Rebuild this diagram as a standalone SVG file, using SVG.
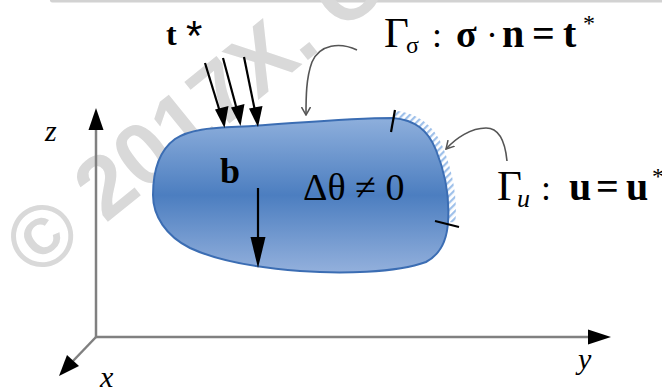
<svg xmlns="http://www.w3.org/2000/svg" width="662" height="387" viewBox="0 0 662 387">
  <style>
    .axis { stroke: #808080; stroke-width: 2.5; fill: none; }
    .lead { stroke: #555; stroke-width: 1.6; fill: none; }
    .force { stroke: #000; stroke-width: 2.2; fill: none; }
    .tick { stroke: #000; stroke-width: 2.2; }
    .serif { font-family: "Liberation Serif", "Times New Roman", serif; fill: #000; }
    .bold { font-weight: bold; }
    .ital { font-style: italic; }
  </style>
  <defs>
    <linearGradient id="bodyFill" x1="0" y1="0" x2="0" y2="1">
      <stop offset="0" stop-color="#8eafdc"/>
      <stop offset="0.5" stop-color="#4c7ec0"/>
      <stop offset="1" stop-color="#93b0dc"/>
    </linearGradient>
    <pattern id="hatch" width="5" height="5" patternUnits="userSpaceOnUse" patternTransform="rotate(45)">
      <rect width="5" height="5" fill="#ffffff"/>
      <rect width="2.2" height="5" fill="#9ec0ea"/>
    </pattern>
    <marker id="openHead" markerWidth="9" markerHeight="10" refX="8" refY="5" orient="auto" markerUnits="userSpaceOnUse">
      <path d="M0,0.5 L8,5 L0,9.5" fill="none" stroke="#555" stroke-width="1.5"/>
    </marker>
  </defs>

  <rect width="662" height="387" fill="#ffffff"/>

  <!-- top edge rule -->
  <rect x="50" y="-2" width="620" height="4.5" rx="2.2" fill="#d2d2d2"/>

  <!-- watermark -->
  <text transform="translate(36,280) rotate(-39)" font-family="Liberation Sans, Arial, sans-serif" font-weight="bold" font-size="88" fill="#d9d9d9">© 2017X. C</text>

  <!-- coordinate axes -->
  <g id="axes">
    <line class="axis" x1="96" y1="337" x2="96" y2="128"/>
    <polygon points="96,108 88.5,130 103.5,130" fill="#000"/>
    <line class="axis" x1="96" y1="337" x2="590" y2="337"/>
    <polygon points="611,337 588,329.5 588,344.5" fill="#000"/>
    <line class="axis" x1="96" y1="337" x2="73" y2="361"/>
    <polygon points="59,376 67,355 79,366" fill="#000"/>
    <text class="serif ital" x="45" y="141" font-size="30">z</text>
    <text class="serif ital" x="100" y="387" font-size="30">x</text>
    <text class="serif ital" x="578" y="369" font-size="30">y</text>
  </g>

  <!-- body -->
  <g id="body">
    <path d="M393,118 C415,120 428,130 436,150 C444,170 450,195 448,222" fill="none" stroke="url(#hatch)" stroke-width="15"/>
    <path d="M393,118 C415,120 428,130 436,150 C444,170 450,195 448,222 C447,240 441,254 426,262 C396,273 340,274 300,271 C260,268 220,262 190,248 C166,236 153,216 153,195 C153,170 160,150 175,139 C190,129 212,128 232,127 C280,125 340,118 393,118 Z" fill="url(#bodyFill)" stroke="#3b6db3" stroke-width="2"/>
    <line class="tick" x1="395" y1="110" x2="391" y2="132"/>
    <line class="tick" x1="435" y1="221" x2="459" y2="227"/>
    <text class="serif bold" x="220" y="183" font-size="36">b</text>
    <text class="serif" x="303" y="200" font-size="38">Δθ ≠ 0</text>
  </g>

  <!-- loads and leaders -->
  <g id="connectors">
    <line class="force" x1="205" y1="63" x2="220" y2="112"/>
    <polygon points="224.5,128 215,109.5 228.5,106" fill="#000"/>
    <line class="force" x1="223" y1="58" x2="237" y2="110"/>
    <polygon points="240.5,126 231,107.5 244.5,104" fill="#000"/>
    <line class="force" x1="244" y1="57" x2="255" y2="111"/>
    <polygon points="258,127 249,108.5 262.5,106" fill="#000"/>
    <line class="force" x1="258" y1="188" x2="258" y2="240"/>
    <polygon points="258,268 250.5,237 265.5,237" fill="#000"/>
    <path class="lead" d="M357,50 C340,42 320,44 312,62 C306,78 306,98 306,115" marker-end="url(#openHead)"/>
    <path class="lead" d="M507,161 C505,140 498,128 486,128 C471,128 456,138 446,149" marker-end="url(#openHead)"/>
  </g>

  <!-- labels -->
  <g id="labels">
    <text class="serif bold" x="166" y="45" font-size="32">t</text>
    <text x="186" y="50" font-family="Liberation Sans, Arial, sans-serif" font-size="42">*</text>
    <text class="serif" x="384" y="47" font-size="43">Γ</text>
    <text class="serif" x="406" y="53" font-size="24">σ</text>
    <text class="serif" x="432" y="47" font-size="36">:</text>
    <text class="serif bold" x="456" y="47" font-size="38">σ</text>
    <text class="serif" x="486" y="47" font-size="36">·</text>
    <text class="serif bold" x="502" y="47" font-size="40">n</text>
    <text class="serif bold" x="532" y="47" font-size="40">=</text>
    <text class="serif bold" x="563" y="47" font-size="40">t</text>
    <text class="serif" x="583" y="31" font-size="24">*</text>
    <text class="serif" x="497" y="200" font-size="43">Γ</text>
    <text class="serif ital" x="517" y="207" font-size="26">u</text>
    <text class="serif" x="541" y="200" font-size="36">:</text>
    <text class="serif bold" x="569" y="200" font-size="40">u</text>
    <text class="serif bold" x="596" y="200" font-size="40">=</text>
    <text class="serif bold" x="626" y="200" font-size="40">u</text>
    <text class="serif" x="652" y="184" font-size="24">*</text>
  </g>
</svg>
